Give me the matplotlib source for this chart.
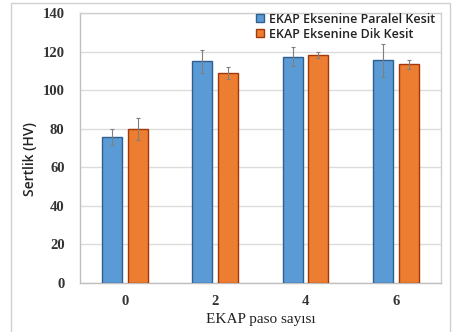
import numpy as np
import matplotlib.pyplot as plt
from matplotlib.patches import Rectangle

# EKAP pass count vs hardness
passes = ['0', '2', '4', '6']
paralel = [75.8, 115.0, 117.3, 115.5]
paralel_err = [4.0, 6.0, 5.0, 8.5]
dik = [79.8, 109.0, 118.1, 113.3]
dik_err = [5.5, 3.0, 1.5, 2.5]

fig = plt.figure(figsize=(4.56, 3.32), dpi=100)
ax = fig.add_axes([0.175, 0.1476, 0.792, 0.8134])

# outer frame of the figure
fig.patches.append(Rectangle((11 / 456, -0.01), (450 - 11) / 456, 1 - 3 / 332 + 0.01,
                             transform=fig.transFigure, fill=False,
                             edgecolor='#d0d0d0', linewidth=1.0))

x = np.arange(len(passes))
w = 0.22
gap = 0.066
err_kw = dict(ecolor='#7f7f7f', elinewidth=0.8, capsize=1.5, capthick=0.8)
ax.bar(x - (w + gap) / 2, paralel, w, yerr=paralel_err, color='#5b9bd5',
       edgecolor='#2f5f8f', linewidth=1.0, label='EKAP Eksenine Paralel Kesit',
       error_kw=err_kw, zorder=3)
ax.bar(x + (w + gap) / 2, dik, w, yerr=dik_err, color='#ed7d31',
       edgecolor='#a0380c', linewidth=1.0, label='EKAP Eksenine Dik Kesit',
       error_kw=err_kw, zorder=3)

ax.set_xlim(-0.5, 3.5)
ax.set_ylim(0, 140)
ax.set_yticks(range(0, 141, 20))
ax.set_xticks(x)
ax.set_xticklabels(passes)
ax.yaxis.grid(True, color='#dcdcdc', linewidth=1.0, zorder=0)
ax.set_axisbelow(True)
for s in ax.spines.values():
    s.set_color('#d0d0d0')
    s.set_linewidth(1.0)
ax.spines['bottom'].set_color('#bfbfbf')
ax.spines['left'].set_color('#bfbfbf')
ax.tick_params(axis='y', length=0, pad=11, labelsize=10.5)
ax.tick_params(axis='x', length=0, pad=9, labelsize=10.5)
for lab in ax.get_xticklabels() + ax.get_yticklabels():
    lab.set_fontfamily('Liberation Serif')
    lab.set_fontweight('bold')
    lab.set_color('#333333')

ax.set_xlabel('EKAP paso sayısı', fontfamily='Liberation Serif', fontsize=11,
              color='#222222', labelpad=3)
ax.set_ylabel('Sertlik (HV)', fontfamily='Open Sans', fontweight='semibold',
              fontsize=10, color='#222222')
ax.yaxis.set_label_coords(-0.118, 0.46)

leg = ax.legend(loc='upper right', frameon=False,
                handlelength=0.6, handleheight=0.6, handletextpad=0.4,
                borderaxespad=0.0, labelspacing=0.15, borderpad=0.2,
                bbox_to_anchor=(0.99, 1.01),
                prop={'family': 'Open Sans', 'weight': 'semibold', 'size': 9.0})
for t in leg.get_texts():
    t.set_color('#222222')

fig.savefig('out.png', dpi=100)
